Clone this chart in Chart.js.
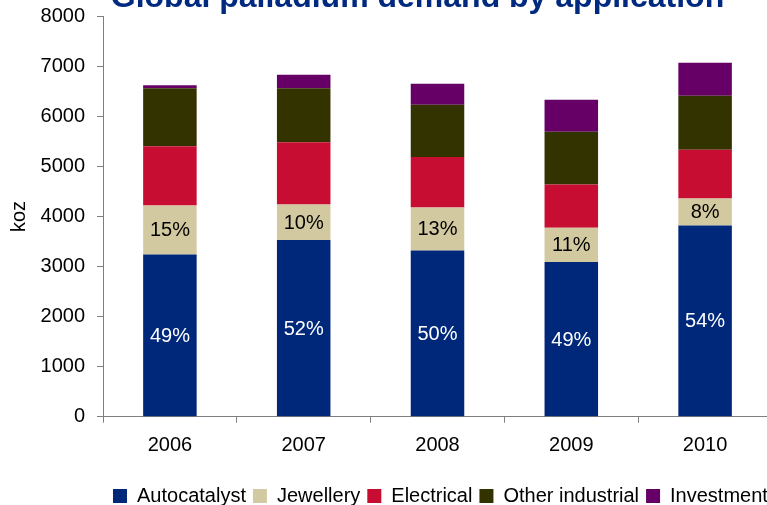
<!DOCTYPE html>
<html>
<head>
<meta charset="utf-8">
<script src="https://cdn.jsdelivr.net/npm/chart.js@4.4.1/dist/chart.umd.min.js"></script>
<style>
  html, body { margin: 0; padding: 0; background: #fff; }
  #wrap { position: relative; width: 767px; height: 505px; overflow: hidden; }
  #wrap canvas { position: absolute; left: 0; top: -30px; }
</style>
</head>
<body>
<div id="wrap"><canvas id="c" width="800" height="549"></canvas></div>
<script>
// Palladium demand by application, koz
const years = ['2006', '2007', '2008', '2009', '2010'];
const autocatalyst    = [3240, 3530, 3320, 3090, 3820];
const jewellery       = [980, 710, 860, 685, 540];
const electrical      = [1180, 1240, 1010, 865, 970];
const otherIndustrial = [1160, 1080, 1040, 1050, 1080];
const investment      = [60, 270, 420, 640, 660];

const yMin = 0, yMax = 8000, yStep = 1000;

const FONT = '"Liberation Sans", Arial, Helvetica, sans-serif';
const AXIS_GREY = '#7f7f7f';

Chart.defaults.font.family = FONT;
Chart.defaults.font.size = 20;
Chart.defaults.color = '#000';

// Share-of-total labels written inside the chosen stacked segments
const segmentLabels = {
  id: 'segmentLabels',
  afterDatasetsDraw(chart, args, opts) {
    const ctx = chart.ctx;
    const sets = chart.data.datasets;
    const totals = chart.data.labels.map((_, i) => sets.reduce((s, d) => s + d.data[i], 0));
    opts.series.forEach(({ index, color }) => {
      const meta = chart.getDatasetMeta(index);
      meta.data.forEach((bar, i) => {
        const pct = Math.round(sets[index].data[i] / totals[i] * 100);
        ctx.save();
        ctx.fillStyle = color;
        ctx.font = '20px ' + FONT;
        ctx.textAlign = 'center';
        ctx.textBaseline = 'middle';
        ctx.fillText(pct + '%', bar.x, (bar.y + bar.base) / 2 + 1);
        ctx.restore();
      });
    });
  }
};

// Horizontal placement of the title and the legend row
const boxPlacement = {
  id: 'boxPlacement',
  afterLayout(chart, args, opts) {
    const t = chart.titleBlock;
    if (t) {
      const w = t.right - t.left;
      t.left = opts.titleCenter - w / 2;
      t.right = t.left + w;
    }
    const lg = chart.legend;
    if (lg) {
      lg.left = opts.legendStart - lg.options.labels.padding;
      lg.right = chart.width;
    }
  }
};

new Chart(document.getElementById('c'), {
  type: 'bar',
  data: {
    labels: years,
    datasets: [
      { label: 'Autocatalyst',     data: autocatalyst,    backgroundColor: '#00287A' },
      { label: 'Jewellery',        data: jewellery,       backgroundColor: '#D3C9A1' },
      { label: 'Electrical',       data: electrical,      backgroundColor: '#C80D33' },
      { label: 'Other industrial', data: otherIndustrial, backgroundColor: '#333300' },
      { label: 'Investment',       data: investment,      backgroundColor: '#660066' }
    ]
  },
  options: {
    responsive: false,
    animation: false,
    devicePixelRatio: 1,
    layout: { padding: { left: 0, right: 28, top: 0, bottom: 3 } },
    datasets: {
      bar: { categoryPercentage: 1.0, barPercentage: 0.4, borderWidth: 0 }
    },
    plugins: {
      title: {
        display: true,
        text: 'Global palladium demand by application',
        color: '#002A80',
        font: { size: 32, weight: 'bold', lineHeight: 1.1 },
        padding: { top: 11, bottom: 0 }
      },
      legend: {
        position: 'bottom',
        align: 'start',
        labels: {
          boxWidth: 14,
          boxHeight: 14,
          padding: 7,
          color: '#000',
          font: { size: 20 }
        }
      },
      tooltip: { enabled: false },
      segmentLabels: {
        series: [
          { index: 0, color: '#ffffff' },
          { index: 1, color: '#000000' }
        ]
      },
      boxPlacement: { titleCenter: 417.5, legendStart: 113 }
    },
    scales: {
      x: {
        stacked: true,
        grid: {
          display: true,
          drawOnChartArea: false,
          drawTicks: true,
          tickLength: 6,
          offset: true,
          color: AXIS_GREY
        },
        border: { display: true, color: AXIS_GREY, width: 1 },
        ticks: { padding: 11, color: '#000', font: { size: 20 } },
        afterFit(scale) { scale.height = 62.3; }
      },
      y: {
        stacked: true,
        min: yMin,
        max: yMax,
        ticks: {
          stepSize: yStep,
          padding: 12,
          color: '#000',
          font: { size: 20 },
          callback: (v) => String(v)
        },
        grid: {
          display: true,
          drawOnChartArea: false,
          drawTicks: true,
          tickLength: 6,
          color: AXIS_GREY
        },
        border: { display: true, color: AXIS_GREY, width: 1 },
        title: {
          display: true,
          text: 'koz',
          color: '#000',
          font: { size: 20 },
          padding: { top: 7, bottom: 9 }
        },
        afterFit(scale) { scale.width = 103; }
      }
    }
  },
  plugins: [segmentLabels, boxPlacement]
});
</script>
</body>
</html>
